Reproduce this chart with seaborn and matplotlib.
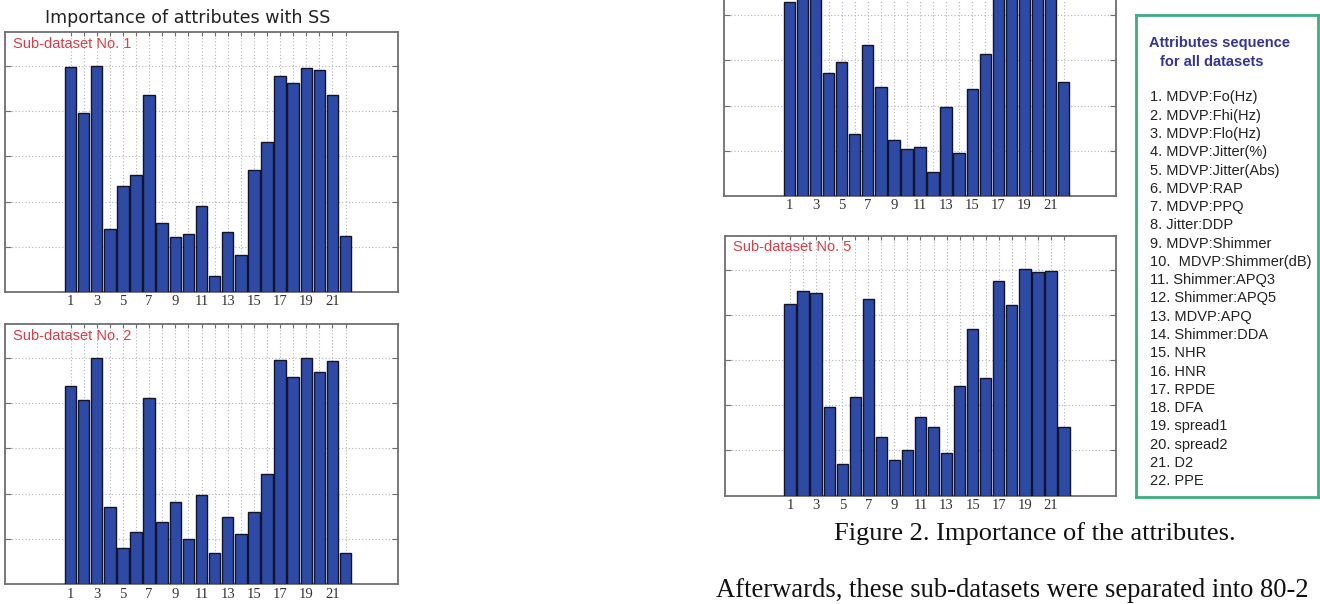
import matplotlib
matplotlib.use("Agg")
import matplotlib.pyplot as plt
import seaborn as sns
import pandas as pd
import numpy as np

# ---------------- data ----------------
attr_index = list(range(1, 23))
tick_labels = [str(i) if i % 2 == 1 else "" for i in attr_index]

sub1 = [4.98, 3.95, 5.00, 1.39, 2.35, 2.59, 4.36, 1.53, 1.21, 1.28, 1.90,
        0.36, 1.32, 0.81, 2.69, 3.31, 4.77, 4.62, 4.96, 4.90, 4.36, 1.24]
sub2 = [4.38, 4.08, 4.99, 1.70, 0.81, 1.16, 4.11, 1.37, 1.81, 0.99, 1.97,
        0.70, 1.49, 1.11, 1.60, 2.43, 4.95, 4.59, 5.00, 4.68, 4.93, 0.70]
sub4 = [4.29, 4.80, 5.00, 2.71, 2.96, 1.37, 3.33, 2.42, 1.24, 1.05, 1.08,
        0.54, 1.96, 0.95, 2.37, 3.15, 4.90, 4.60, 5.00, 4.95, 4.70, 2.53]
sub5 = [4.23, 4.53, 4.48, 1.96, 0.70, 2.19, 4.36, 1.29, 0.80, 1.00, 1.75,
        1.52, 0.94, 2.43, 3.68, 2.60, 4.74, 4.21, 5.01, 4.95, 4.97, 1.52]

attr_names = ["MDVP:Fo(Hz)", "MDVP:Fhi(Hz)", "MDVP:Flo(Hz)", "MDVP:Jitter(%)",
              "MDVP:Jitter(Abs)", "MDVP:RAP", "MDVP:PPQ", "Jitter:DDP",
              "MDVP:Shimmer", "MDVP:Shimmer(dB)", "Shimmer:APQ3", "Shimmer:APQ5",
              "MDVP:APQ", "Shimmer:DDA", "NHR", "HNR", "RPDE", "DFA",
              "spread1", "spread2", "D2", "PPE"]

main_title = "Importance of attributes with SS"
caption = "Figure 2. Importance of the attributes."
body_text = "Afterwards, these sub-datasets were separated into 80-2"
legend_title = ["Attributes sequence", "for all datasets"]

# ---------------- style ----------------
sns.set_style("white")
plt.rcParams["font.family"] = ["Liberation Sans", "DejaVu Sans"]

W, H = 1320, 604
fig = plt.figure(figsize=(W / 100, H / 100), dpi=100)


def box(x0, y0, x1, y1):
    return [x0 / W, 1 - y1 / H, (x1 - x0) / W, (y1 - y0) / H]


BAR_COLOR = "#2c4aa6"
FRAME = "#6e6e6e"
GRID = "#b4b4b4"


def panel(rect, values, label=None):
    ax = fig.add_axes(rect)
    df = pd.DataFrame({"attr": attr_index, "value": values})
    sns.barplot(data=df, x="attr", y="value", native_scale=True, ax=ax,
                color=BAR_COLOR, saturation=1, width=0.88,
                edgecolor="#141428", linewidth=1.0, zorder=3)
    ax.set_xlim(-4, 26)
    ax.set_ylim(0, 5.75)
    ax.set_xticks(attr_index)
    ax.set_xticklabels(tick_labels, family=["Liberation Serif"], fontsize=10.5,
                       color="#333333")
    ax.set_yticks([1, 2, 3, 4, 5])
    ax.set_yticklabels([])
    ax.set_xlabel("")
    ax.set_ylabel("")
    ax.tick_params(axis="x", direction="in", length=3, width=0.8, color=FRAME,
                   top=True, bottom=False, pad=2.5)
    ax.tick_params(axis="y", direction="in", length=4, width=0.8, color=FRAME,
                   left=True, right=True)
    ax.grid(True, linestyle=(0, (1, 2)), color=GRID, linewidth=0.8, zorder=0)
    ax.set_axisbelow(True)
    for s in ax.spines.values():
        s.set_color(FRAME)
        s.set_linewidth(1.3)
    if label:
        ax.text(0.02, 0.955, label, transform=ax.transAxes, color="#e33a44",
                fontsize=10.5, va="center", ha="left", zorder=5)
    return ax


panel(box(5, 32, 398, 292), sub1, "Sub-dataset No. 1")
panel(box(5, 324, 398, 584.3), sub2, "Sub-dataset No. 2")
panel(box(724, -64, 1116, 196), sub4)
panel(box(725, 235.7, 1116, 495.7), sub5, "Sub-dataset No. 5")

# title of left column
fig.text(188 / W, 1 - 18 / H, main_title, family=["DejaVu Sans"],
         fontsize=12.6, ha="center", va="center", color="#222222")

# legend box
lax = fig.add_axes(box(1136, 15.3, 1318, 497))
lax.set_xticks([])
lax.set_yticks([])
lax.set_facecolor("white")
for s in lax.spines.values():
    s.set_color("#3cae80")
    s.set_linewidth(2.0)

fig.text(1149 / W, 1 - 43.5 / H, legend_title[0], fontsize=10.5,
         fontweight="bold", color="#34349a", ha="left", va="center")
fig.text(1160 / W, 1 - 61.5 / H, legend_title[1], fontsize=10.5,
         fontweight="bold", color="#34349a", ha="left", va="center")
for i, name in enumerate(attr_names):
    y = 97.5 + i * 18.27
    sep = ".  " if i + 1 == 10 else ". "
    fig.text(1150 / W, 1 - y / H, f"{i + 1}{sep}{name}", fontsize=10.5,
             color="#222222", ha="left", va="center")

# caption and body text
fig.text(1035 / W, 1 - 540 / H, caption, family=["Liberation Serif"],
         fontsize=19, ha="center", va="baseline", color="#111111")
fig.text(716.5 / W, 1 - 597 / H, body_text, family=["Liberation Serif"],
         fontsize=19.2, ha="left", va="baseline", color="#111111")

fig.savefig("out.png", dpi=100)
